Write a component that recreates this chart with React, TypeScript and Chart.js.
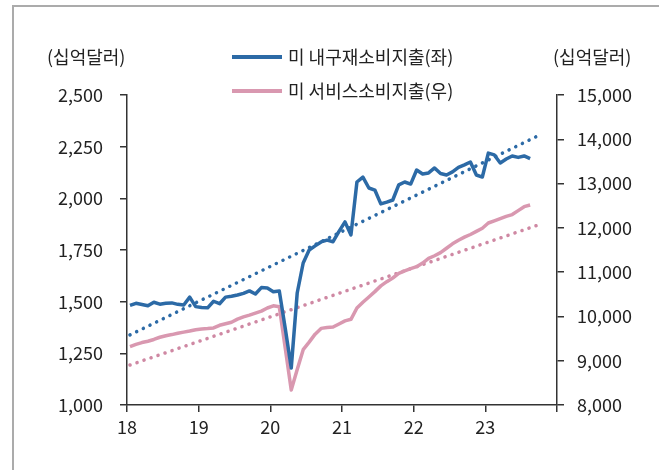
import React, { useEffect, useRef } from "react";
import { Chart, registerables } from "chart.js";

Chart.register(...registerables);

const START_YEAR = 2018;
const xTickLabels = ["18", "19", "20", "21", "22", "23"];
const leftTitle = "(십억달러)";
const rightTitle = "(십억달러)";
const durableName = "미 내구재소비지출(좌)";
const servicesName = "미 서비스소비지출(우)";

// monthly, Jan 2018 .. Aug 2023
const durable = [
  1482, 1492, 1486, 1480, 1497, 1488, 1492, 1494, 1487, 1484, 1522, 1476,
  1472, 1470, 1502, 1490, 1522, 1526, 1532, 1540, 1552, 1537, 1568, 1566,
  1548, 1552, 1370, 1179, 1542, 1687, 1750, 1770, 1789, 1798, 1790, 1840,
  1886, 1823, 2079, 2103, 2050, 2040, 1973, 1982, 1992, 2065, 2079, 2069,
  2137, 2118, 2123, 2147, 2120, 2113, 2128, 2150, 2162, 2176, 2113, 2103,
  2219, 2210, 2171, 2190, 2205, 2198, 2205, 2192,
];
const services = [
  9320, 9370, 9410, 9440, 9480, 9530, 9565, 9590, 9620, 9645, 9670, 9700,
  9718, 9725, 9740, 9800, 9835, 9870, 9940, 9990, 10030, 10075, 10120, 10190,
  10240, 10220, 9280, 8340, 8800, 9250, 9420, 9600, 9730, 9750, 9760, 9830,
  9900, 9935, 10190, 10320, 10440, 10560, 10690, 10785, 10868, 10970, 11030, 11080,
  11123, 11206, 11310, 11370, 11440, 11540, 11640, 11720, 11790, 11850, 11920, 11990,
  12110, 12160, 12210, 12260, 12300, 12390, 12478, 12516,
];
// trend lines: [start, end] values, months 0 and 68
const trendMonths = [0, 68];
const durableTrend = [1339, 2298];
const servicesTrend = [8903, 12049];

const BLUE = "#2c6aa6";
const PINK = "#d998b0";
const PINK_DOT = "#cf88a3";
const FONT = '"Noto Sans CJK KR", "Noto Sans", sans-serif';

const monthX = (i: number) => START_YEAR + (i + 0.5) / 12;

const overlay = {
  id: "overlay",
  afterDraw(chart: any) {
    const ctx = chart.ctx;
    const a = chart.chartArea;
    ctx.save();
    ctx.font = `18px ${FONT}`;
    ctx.fillStyle = "#222";
    ctx.textBaseline = "middle";
    ctx.textAlign = "left";
    ctx.fillText(leftTitle, a.left - 80, a.top - 38);
    ctx.fillText(rightTitle, a.right - 4, a.top - 38);
    const items = [
      { name: durableName, color: BLUE, y: a.top - 38 },
      { name: servicesName, color: PINK, y: a.top - 4 },
    ];
    for (const it of items) {
      ctx.strokeStyle = it.color;
      ctx.lineWidth = 4;
      ctx.beginPath();
      ctx.moveTo(a.left + 105, it.y);
      ctx.lineTo(a.left + 155, it.y);
      ctx.stroke();
      ctx.fillText(it.name, a.left + 161, it.y);
    }
    ctx.restore();
  },
};

export default function App() {
  const ref = useRef<HTMLCanvasElement>(null);
  useEffect(() => {
    if (!ref.current) return;
    Chart.defaults.font.family = FONT;
    const chart = new Chart(ref.current, {
      type: "line",
      data: {
        datasets: [
          {
            label: durableName,
            data: durable.map((v, i) => ({ x: monthX(i), y: v })),
            borderColor: BLUE,
            borderWidth: 3.5,
            pointRadius: 0,
            tension: 0,
            yAxisID: "y",
            borderJoinStyle: "round",
          },
          {
            label: servicesName,
            data: services.map((v, i) => ({ x: monthX(i), y: v })),
            borderColor: PINK,
            borderWidth: 3.5,
            pointRadius: 0,
            tension: 0,
            yAxisID: "y1",
            borderJoinStyle: "round",
          },
          {
            label: "trend1",
            data: durableTrend.map((v, k) => ({ x: monthX(trendMonths[k]), y: v })),
            borderColor: BLUE,
            borderWidth: 3.5,
            borderDash: [0.1, 7.3],
            borderCapStyle: "round",
            pointRadius: 0,
            yAxisID: "y",
          },
          {
            label: "trend2",
            data: servicesTrend.map((v, k) => ({ x: monthX(trendMonths[k]), y: v })),
            borderColor: PINK_DOT,
            borderWidth: 3.5,
            borderDash: [0.1, 7.3],
            borderCapStyle: "round",
            pointRadius: 0,
            yAxisID: "y1",
          },
        ],
      },
      options: {
        animation: false,
        responsive: false,
        devicePixelRatio: 1,
        layout: { padding: { top: 95, left: 0, right: 0, bottom: 0 } },
        plugins: { legend: { display: false }, tooltip: { enabled: false } },
        scales: {
          x: {
            type: "linear",
            min: START_YEAR,
            max: START_YEAR + 6,
            afterFit: (s: any) => { s.height = 65; },
            afterBuildTicks: (s: any) => {
              s.ticks = [0, 1, 2, 3, 4, 5, 6].map((k) => ({ value: START_YEAR + k }));
            },
            ticks: {
              callback: (v: any) => xTickLabels[Math.round(Number(v) - START_YEAR)] ?? "",
              color: "#222",
              font: { size: 18 },
              padding: 4,
              maxRotation: 0,
              autoSkip: false,
            },
            grid: { drawOnChartArea: false, tickLength: 7, color: "#333", lineWidth: 1.5 },
            border: { color: "#333", width: 1.5 },
          },
          y: {
            position: "left",
            min: 1000,
            max: 2500,
            afterFit: (s: any) => { s.width = 127; },
            ticks: {
              stepSize: 250,
              callback: (v: any) => Number(v).toLocaleString("en-US"),
              color: "#222",
              font: { size: 18 },
              padding: 17,
            },
            grid: { drawOnChartArea: false, tickLength: 7, color: "#333", lineWidth: 1.5 },
            border: { color: "#333", width: 1.5 },
          },
          y1: {
            position: "right",
            min: 8000,
            max: 15000,
            afterFit: (s: any) => { s.width = 102; },
            ticks: {
              stepSize: 1000,
              callback: (v: any) => Number(v).toLocaleString("en-US"),
              color: "#222",
              font: { size: 18 },
              padding: 13,
            },
            grid: { drawOnChartArea: false, tickLength: 7, color: "#333", lineWidth: 1.5 },
            border: { color: "#333", width: 1.5 },
          },
        },
      },
      plugins: [overlay],
    } as any);
    return () => chart.destroy();
  }, []);

  return (
    <div style={{ position: "fixed", left: 0, top: 0, width: 659, height: 470, background: "#fff", overflow: "hidden" }}>
      <div
        style={{
          position: "absolute",
          left: 12,
          top: 5,
          width: 700,
          height: 500,
          borderLeft: "2px solid #ababab",
          borderTop: "2px solid #ababab",
        }}
      />
      <canvas ref={ref} width={659} height={470} style={{ position: "absolute", left: 0, top: 0, width: 659, height: 470 }} />
    </div>
  );
}
